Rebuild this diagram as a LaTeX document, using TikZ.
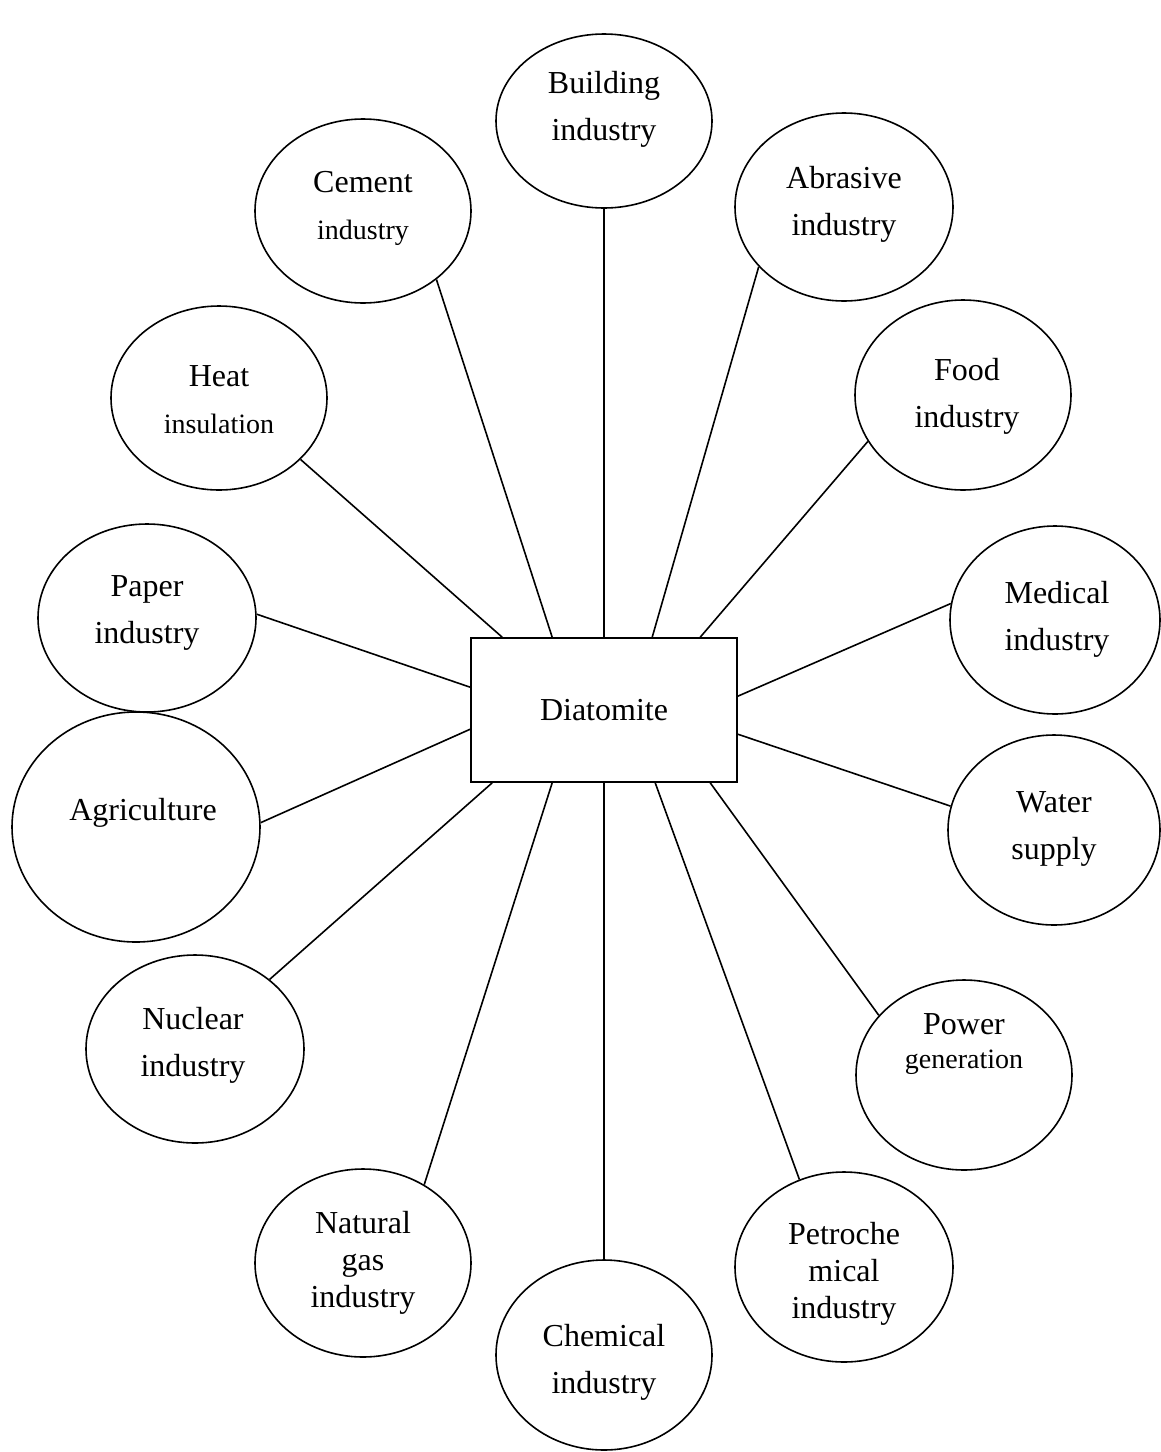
\documentclass[tikz,border=0pt]{standalone}
\usepackage{fontspec}
\setmainfont{Liberation Serif}
\usetikzlibrary{shapes.geometric}
\begin{document}
\begin{tikzpicture}[x=1pt,y=-1pt,
  every node/.style={font=\fontsize{32}{47}\selectfont},
  ell/.style={draw,ellipse,line width=1.6pt,inner sep=0pt,minimum width=216pt,minimum height=188pt},
  lab/.style={align=center,inner sep=0pt},
  tight/.style={font=\fontsize{32}{37}\selectfont},
  box/.style={draw,rectangle,line width=1.6pt,minimum width=266pt,minimum height=144pt},
  conn/.style={line width=1.6pt}]
\newcommand{\sm}[1]{{\fontsize{28}{40}\selectfont #1}}
\useasboundingbox (0,0) rectangle (1160,1452);
\node[box] (d) at (604,710) {Diatomite};
\node[ell,minimum height=174pt,label={[lab,yshift=12pt]center:{Building\\industry}}] (bld) at (604,121) {};
\node[ell,minimum height=184pt,label={[lab,yshift=3pt]center:{Cement\\\sm{industry}}}] (cem) at (363,211) {};
\node[ell,minimum width=218pt,label={[lab,yshift=3pt]center:{Abrasive\\industry}}] (abr) at (844,207) {};
\node[ell,minimum height=184pt,label={[lab,yshift=-2pt]center:{Heat\\\sm{insulation}}}] (heat) at (219,398) {};
\node[ell,minimum height=190pt,label={[lab,yshift=-1pt,xshift=4pt]center:{Food\\industry}}] (food) at (963,395) {};
\node[ell,minimum width=218pt,label={[lab,yshift=5pt]center:{Paper\\industry}}] (pap) at (147,618) {};
\node[ell,minimum width=210pt,label={[lab,yshift=1pt,xshift=2pt]center:{Medical\\industry}}] (med) at (1055,620) {};
\node[ell,minimum width=248pt,minimum height=230pt,label={[lab,yshift=14pt,xshift=7pt]center:{Agriculture}}] (agr) at (136,827) {};
\node[ell,minimum width=212pt,minimum height=190pt,label={[lab,yshift=1pt]center:{Water\\supply}}] (wat) at (1054,830) {};
\node[ell,minimum width=218pt,label={[lab,yshift=4pt,xshift=-2pt]center:{Nuclear\\industry}}] (nuc) at (195,1049) {};
\node[ell,minimum height=190pt,label={[lab,yshift=31pt,font=\fontsize{32}{34}\selectfont]center:{Power\\\sm{generation}}}] (pow) at (964,1075) {};
\node[ell,label={[lab,tight]center:{Natural\\gas\\industry}}] (gas) at (363,1263) {};
\node[ell,minimum width=218pt,minimum height=190pt,label={[lab,tight,yshift=-7pt]center:{Petroche\\mical\\industry}}] (pet) at (844,1267) {};
\node[ell,minimum height=190pt,label={[lab,yshift=-7pt]center:{Chemical\\industry}}] (chem) at (604,1355) {};
\draw[conn] (bld.-90) -- (d.north);
\draw[conn] (cem.-43) -- ([xshift=82pt]d.north west);
\draw[conn] (abr.-145) -- ([xshift=182pt]d.north west);
\draw[conn] (heat.-37) -- ([xshift=32pt]d.north west);
\draw[conn] (food.-154) -- ([xshift=230pt]d.north west);
\draw[conn] (pap.2) -- ([yshift=-50pt]d.north west);
\draw[conn] (agr.2) -- ([yshift=-92pt]d.north west);
\draw[conn] (med.171) -- ([yshift=-59pt]d.north east);
\draw[conn] (wat.167) -- ([yshift=-97pt]d.north east);
\draw[conn] (nuc.43) -- ([xshift=22pt]d.south west);
\draw[conn] (gas.52) -- ([xshift=82pt]d.south west);
\draw[conn] (chem.90) -- (d.south);
\draw[conn] (pet.117) -- ([xshift=185pt]d.south west);
\draw[conn] (pow.145) -- ([xshift=240pt]d.south west);
\end{tikzpicture}
\end{document}
